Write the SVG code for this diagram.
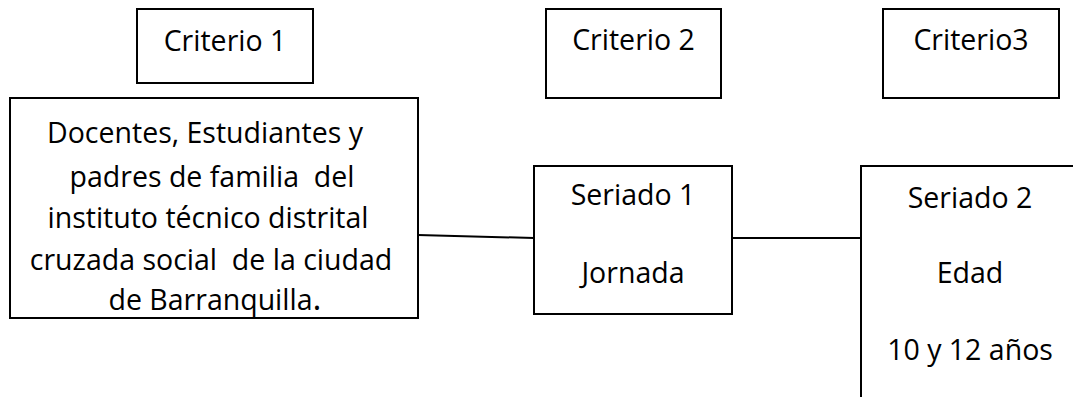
<svg xmlns="http://www.w3.org/2000/svg" width="1073" height="397" viewBox="0 0 1073 397">
<style>
.box{fill:#fff;stroke:#000;stroke-width:2}
.t{font-family:"Open Sans","Noto Sans","Liberation Sans",sans-serif;font-size:28.5px;fill:#000;text-anchor:middle}
.c{stroke:#000;stroke-width:2;fill:none}
</style>
<rect width="1073" height="397" fill="#fff"/>
<g id="connectors">
<line class="c" x1="418" y1="235" x2="534" y2="238"/>
<line class="c" x1="732" y1="238" x2="861" y2="238"/>
</g>
<g id="criterio1">
<rect class="box" x="137" y="9" width="176" height="74"/>
<text class="t" x="225" y="51">Criterio 1</text>
</g>
<g id="criterio2">
<rect class="box" x="546" y="9" width="175" height="89"/>
<text class="t" x="633.5" y="50">Criterio 2</text>
</g>
<g id="criterio3">
<rect class="box" x="883" y="9" width="176" height="89"/>
<text class="t" x="971" y="50">Criterio3</text>
</g>
<g id="poblacion">
<rect class="box" x="10" y="98" width="408" height="220"/>
<text class="t" x="205" y="143">Docentes, Estudiantes y</text>
<text class="t" x="212" y="187" xml:space="preserve">padres de familia  del</text>
<text class="t" x="208" y="228">instituto técnico distrital</text>
<text class="t" x="211" y="270" xml:space="preserve">cruzada social  de la ciudad</text>
<text class="t" x="215" y="310">de Barranquilla<tspan style="font-size:34px">.</tspan></text>
</g>
<g id="seriado1">
<rect class="box" x="534" y="166" width="198" height="148"/>
<text class="t" x="633" y="205">Seriado 1</text>
<text class="t" x="633" y="283">Jornada</text>
</g>
<g id="seriado2">
<rect class="box" x="861" y="166" width="240" height="260"/>
<text class="t" x="970" y="208">Seriado 2</text>
<text class="t" x="970" y="283">Edad</text>
<text class="t" x="970" y="360">10 y 12 años</text>
</g>
</svg>
